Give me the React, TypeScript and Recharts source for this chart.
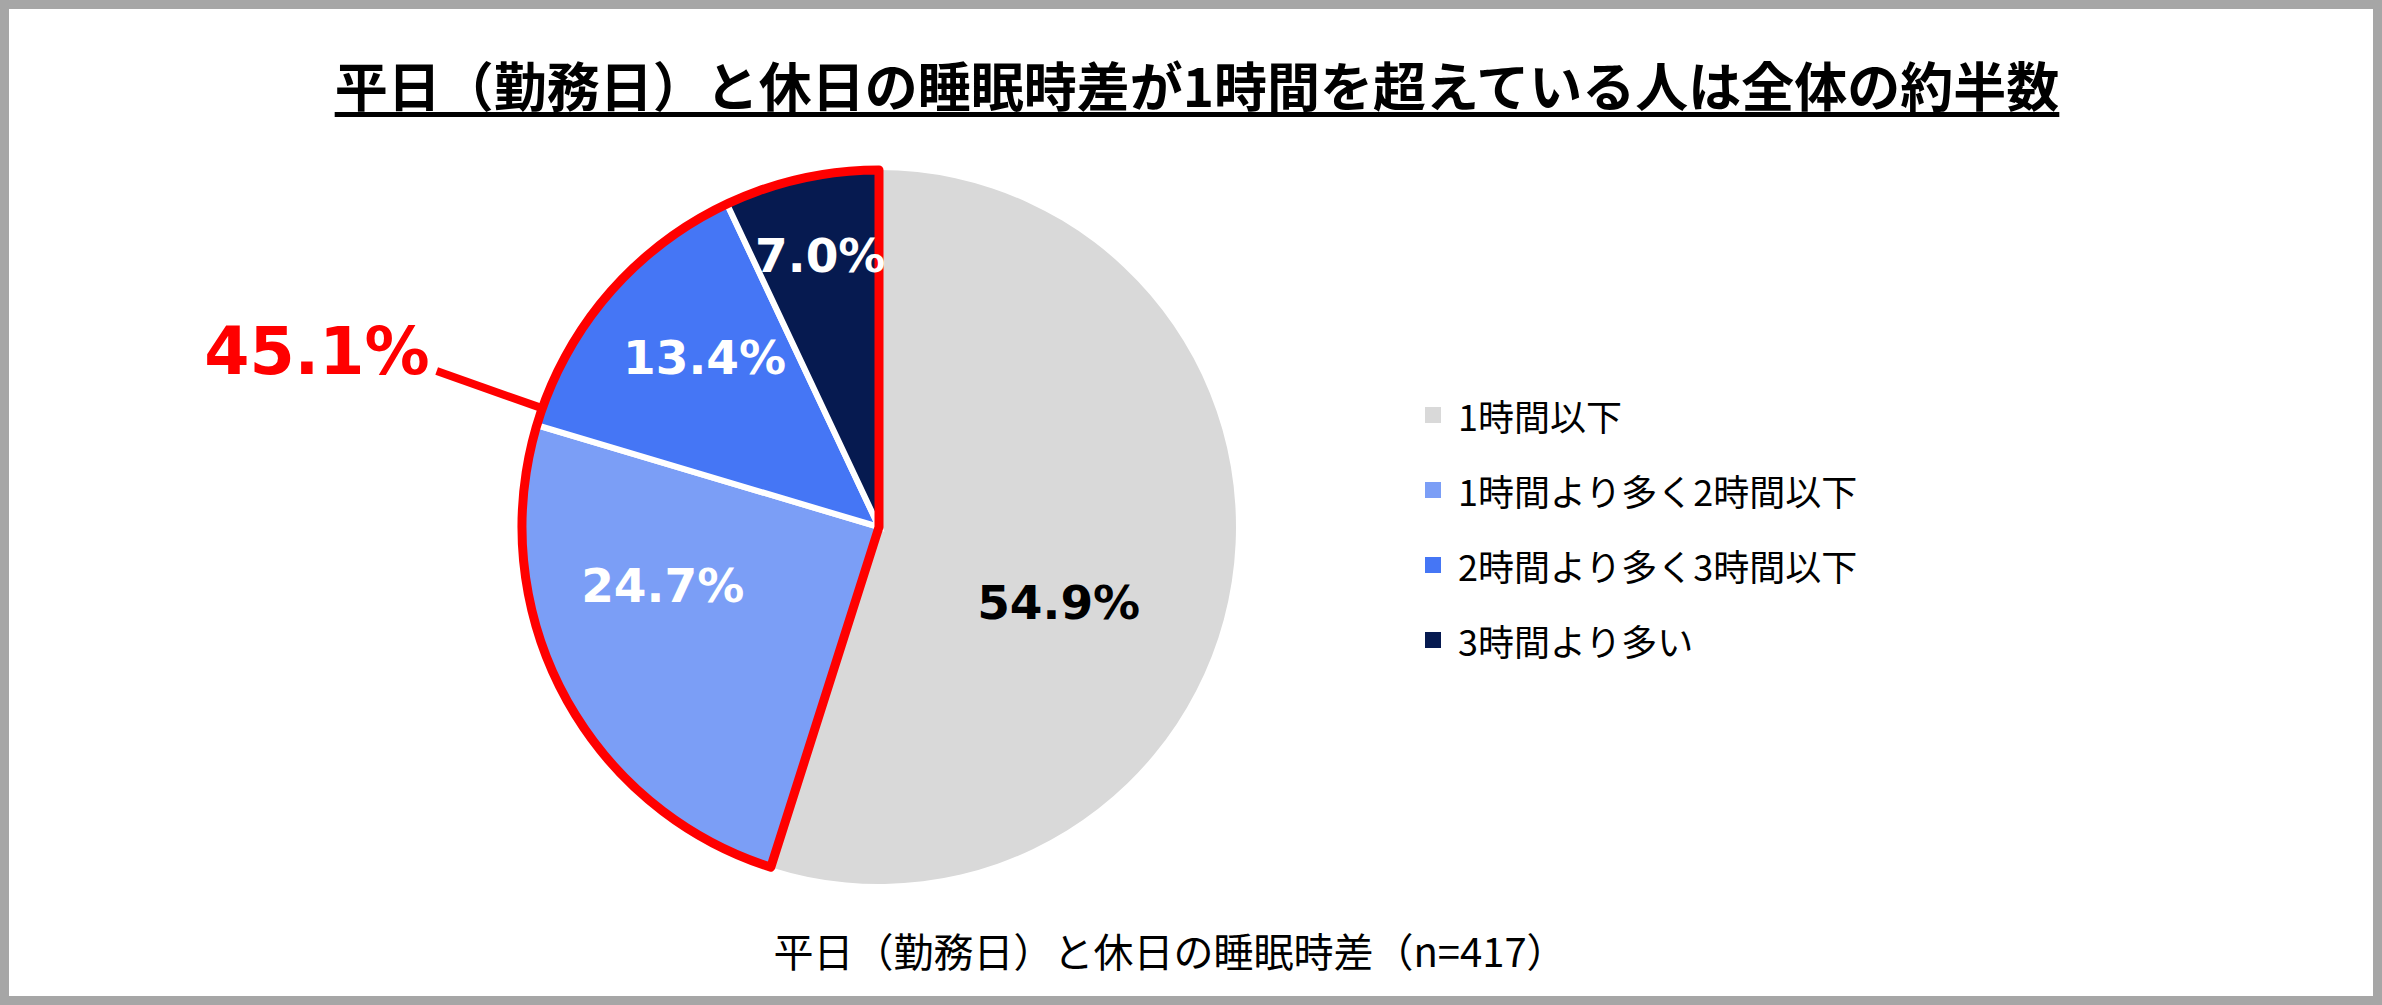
import React from 'react';
import { PieChart, Pie, Cell, Legend } from 'recharts';

const TITLE = '平日（勤務日）と休日の睡眠時差が1時間を超えている人は全体の約半数';
const CAPTION = '平日（勤務日）と休日の睡眠時差（n=417）';
const CATEGORIES = ['1時間以下', '1時間より多く2時間以下', '2時間より多く3時間以下', '3時間より多い'];
const VALUES = [54.9, 24.7, 13.4, 7.0];
const COLORS = ['#D9D9D9', '#7B9EF6', '#4576F5', '#061A50'];
const LABEL_COLORS = ['#000000', '#FFFFFF', '#FFFFFF', '#FFFFFF'];

// layout tweaks (not data)
const LABEL_RADIUS_RATIO = 0.6;
const LABEL_NUDGE: [number, number][] = [[-32, 43], [-27, -42], [-12, -30], [-12, -62]];
const ANNOT_ANGLE_SHIFT = -10.6;
const ANNOT_LEN = 112;
const RED = '#FF0000';
const W = 2382;
const H = 1005;
const CX = 879;
const CY = 527;
const R = 357;

const data = CATEGORIES.map((name, i) => ({ name, value: VALUES[i] }));
const highlightTotal = VALUES.slice(1).reduce((a, b) => a + b, 0);
const outlineData = [
  { name: 'base', value: VALUES[0] },
  { name: 'highlight', value: highlightTotal },
];

const RAD = Math.PI / 180;
const FONT_NUM = '"DejaVu Sans", Verdana, sans-serif';
const FONT_JP = '"Noto Sans CJK JP", "Noto Sans", sans-serif';

const renderLabel = (props: any) => {
  const { cx, cy, midAngle, outerRadius, index, value } = props;
  const r = outerRadius * LABEL_RADIUS_RATIO;
  const x = cx + r * Math.cos(-midAngle * RAD) + LABEL_NUDGE[index][0];
  const y = cy + r * Math.sin(-midAngle * RAD) + LABEL_NUDGE[index][1];
  return (
    <text
      x={x}
      y={y}
      fill={LABEL_COLORS[index]}
      textAnchor="middle"
      dominantBaseline="central"
      fontFamily={FONT_NUM}
      fontWeight={700}
      fontSize={47}
    >
      {Number(value).toFixed(1)}%
    </text>
  );
};

const renderAnnotation = (props: any) => {
  const { cx, cy, midAngle, outerRadius, index, value } = props;
  if (index !== 1) return null;
  const a = (midAngle + ANNOT_ANGLE_SHIFT) * RAD;
  const x1 = cx + (outerRadius + 2) * Math.cos(-a);
  const y1 = cy + (outerRadius + 2) * Math.sin(-a);
  const x2 = cx + (outerRadius + ANNOT_LEN) * Math.cos(-a);
  const y2 = cy + (outerRadius + ANNOT_LEN) * Math.sin(-a);
  return (
    <g>
      <line x1={x1} y1={y1} x2={x2} y2={y2} stroke={RED} strokeWidth={8} />
      <text
        x={x2 - 7}
        y={y2 + 3}
        textAnchor="end"
        fill={RED}
        fontFamily={FONT_NUM}
        fontWeight={700}
        fontSize={65}
      >
        {Number(value).toFixed(1)}%
      </text>
    </g>
  );
};

const renderLegend = (props: any) => {
  const payload = (props.payload || [])
    .filter((p: any) => CATEGORIES.includes(p.value))
    .sort((a: any, b: any) => CATEGORIES.indexOf(a.value) - CATEGORIES.indexOf(b.value));
  return (
    <div style={{ fontFamily: FONT_JP, fontSize: 36, color: '#000' }}>
      {payload.map((p: any, i: number) => (
        <div key={i} style={{ height: 75, display: 'flex', alignItems: 'center', whiteSpace: 'nowrap' }}>
          <span
            style={{
              display: 'inline-block',
              width: 16,
              height: 16,
              background: COLORS[CATEGORIES.indexOf(p.value)],
              marginRight: 17,
            }}
          />
          <span>{p.value}</span>
        </div>
      ))}
    </div>
  );
};

export default function App() {
  return (
    <div style={{ position: 'absolute', left: 0, top: 0, width: W, height: H, background: '#fff', overflow: 'hidden' }}>
      <div
        style={{
          position: 'absolute',
          left: 12,
          width: W - 12,
          top: 58,
          textAlign: 'center',
          fontFamily: FONT_JP,
          fontWeight: 700,
          fontSize: 53,
          lineHeight: '53px',
          color: '#000',
        }}
      >
        <span style={{ textDecoration: 'underline', textDecorationThickness: '5px', textUnderlineOffset: '5px' }}>{TITLE}</span>
      </div>
      <div style={{ position: 'absolute', left: 0, top: 0 }}>
        <PieChart width={W} height={H} margin={{ top: 0, right: 0, bottom: 0, left: 0 }}>
          <Pie
            data={data}
            dataKey="value"
            nameKey="name"
            cx={CX}
            cy={CY}
            outerRadius={R}
            startAngle={90}
            endAngle={-270}
            stroke="#FFFFFF"
            strokeWidth={6}
            label={renderLabel}
            labelLine={false}
            isAnimationActive={false}
          >
            {data.map((d, i) => (
              <Cell key={d.name} fill={COLORS[i]} stroke={i === 0 ? 'none' : '#FFFFFF'} strokeWidth={6} />
            ))}
          </Pie>
          <Pie
            data={outlineData}
            dataKey="value"
            nameKey="name"
            cx={CX}
            cy={CY}
            outerRadius={R}
            startAngle={90}
            endAngle={-270}
            fill="none"
            stroke={RED}
            strokeWidth={9}
            legendType="none"
            label={renderAnnotation}
            labelLine={false}
            isAnimationActive={false}
          >
            <Cell key="base" fill="none" stroke="none" strokeWidth={0} />
            <Cell key="highlight" fill="none" stroke={RED} strokeWidth={9} strokeLinejoin="round" />
          </Pie>
          <Legend
            layout="vertical"
            align="right"
            verticalAlign="middle"
            content={renderLegend}
            wrapperStyle={{ left: 1425, top: 377, right: 'auto', width: 700 }}
          />
        </PieChart>
      </div>
      <div
        style={{
          position: 'absolute',
          left: 0,
          width: 2340,
          top: 930,
          textAlign: 'center',
          fontFamily: FONT_JP,
          fontSize: 40,
          lineHeight: '40px',
          color: '#000',
        }}
      >
        {CAPTION}
      </div>
      <div
        style={{
          position: 'absolute',
          left: 0,
          top: 0,
          width: W,
          height: H,
          boxSizing: 'border-box',
          border: '9px solid #A6A6A6',
          pointerEvents: 'none',
        }}
      />
    </div>
  );
}
